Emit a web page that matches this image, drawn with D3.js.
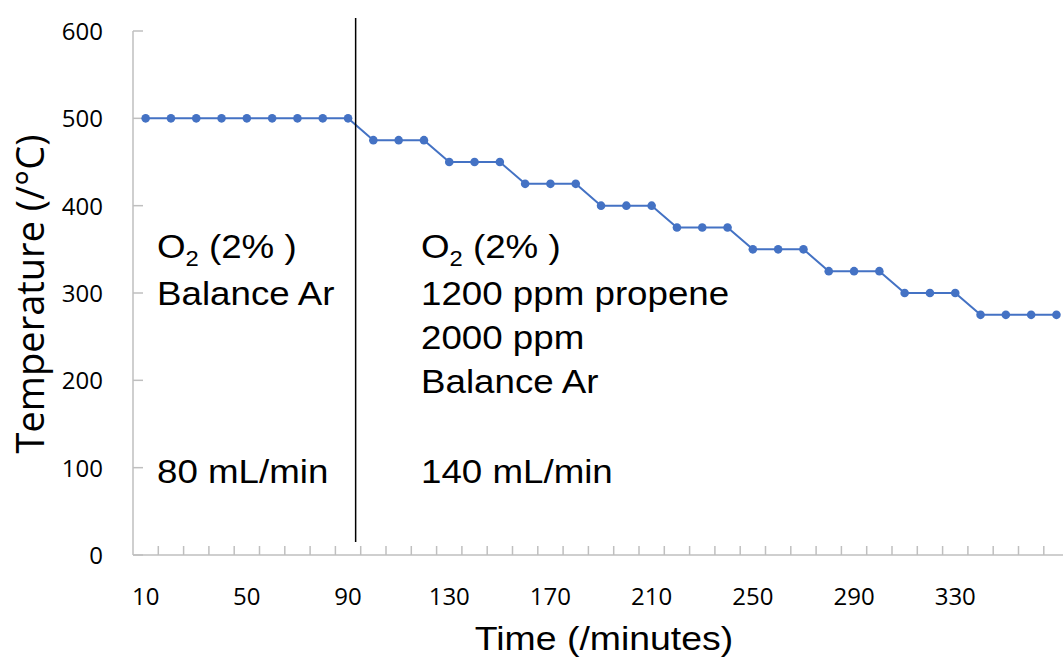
<!DOCTYPE html>
<html>
<head>
<meta charset="utf-8">
<script src="https://cdn.jsdelivr.net/npm/d3@7"></script>
<style>
  body { margin: 0; background: #fff; }
  svg { display: block; }
</style>
</head>
<body>
<div id="chart"></div>
<script>
// data
const times = [10, 20, 30, 40, 50, 60, 70, 80, 90, 100, 110, 120, 130, 140, 150, 160, 170, 180, 190,
  200, 210, 220, 230, 240, 250, 260, 270, 280, 290, 300, 310, 320, 330, 340, 350, 360, 370];
const temps = [500, 500, 500, 500, 500, 500, 500, 500, 500, 475, 475, 475, 450, 450, 450, 425, 425, 425, 400,
  400, 400, 375, 375, 375, 350, 350, 350, 325, 325, 325, 300, 300, 300, 275, 275, 275, 275];
const xLabels = [10, 50, 90, 130, 170, 210, 250, 290, 330];
const yTicks = [0, 100, 200, 300, 400, 500, 600];
const switchTime = 93;
const leftNotes = ["O2 (2% )", "Balance Ar", "", "", "80 mL/min"];
const rightNotes = ["O2 (2% )", "1200 ppm propene", "2000 ppm", "Balance Ar", "140 mL/min"];

const W = 1063, H = 662;
const plot = { left: 133, top: 31, bottom: 555 };
const band = 25.3;

const svg = d3.select("#chart").append("svg")
  .attr("width", W).attr("height", H);

const x = d3.scaleBand().domain(times).range([plot.left, plot.left + band * times.length]);
const y = d3.scaleLinear().domain([0, 600]).range([plot.bottom, plot.top]);
const cx = t => x(t) + x.bandwidth() / 2;
const tickFont = "'Open Sans', sans-serif";
const noteFont = "'Liberation Sans', Arial, sans-serif";

// y axis
svg.append("line")
  .attr("x1", plot.left).attr("x2", plot.left)
  .attr("y1", plot.top).attr("y2", plot.bottom)
  .attr("stroke", "#bfbfbf").attr("stroke-width", 1.5);
svg.selectAll(".ytick").data(yTicks).enter().append("line")
  .attr("x1", plot.left).attr("x2", plot.left + 10)
  .attr("y1", d => y(d)).attr("y2", d => y(d))
  .attr("stroke", "#bfbfbf").attr("stroke-width", 1.5);
svg.selectAll(".ylab").data(yTicks).enter().append("text")
  .attr("x", 103).attr("y", d => y(d) + 9)
  .attr("text-anchor", "end")
  .style("font-family", tickFont).style("font-size", "24px").style("fill", "#000")
  .text(d => d);

// x axis
svg.append("line")
  .attr("x1", plot.left).attr("x2", W)
  .attr("y1", plot.bottom).attr("y2", plot.bottom)
  .attr("stroke", "#bfbfbf").attr("stroke-width", 1.5);
svg.selectAll(".xtick").data(times.slice(1)).enter().append("line")
  .attr("x1", d => x(d)).attr("x2", d => x(d))
  .attr("y1", plot.bottom).attr("y2", plot.bottom - 9)
  .attr("stroke", "#bfbfbf").attr("stroke-width", 1.5);
svg.selectAll(".xlab").data(xLabels).enter().append("text")
  .attr("x", d => cx(d)).attr("y", 605)
  .attr("text-anchor", "middle")
  .style("font-family", tickFont).style("font-size", "24px").style("fill", "#000")
  .text(d => d);

// axis titles
svg.append("text")
  .attr("transform", "translate(604,650) scale(1.1,1)")
  .attr("text-anchor", "middle")
  .style("font-family", noteFont).style("font-size", "34px")
  .text("Time (/minutes)");
svg.append("text")
  .attr("transform", "translate(44,294) rotate(-90)")
  .attr("text-anchor", "middle")
  .style("font-family", tickFont).style("font-size", "38px")
  .text("Temperature (/°C)");

// series
const line = d3.line().x((d, i) => cx(times[i])).y(d => y(d));
svg.append("path")
  .datum(temps)
  .attr("fill", "none")
  .attr("stroke", "#4472c4")
  .attr("stroke-width", 2)
  .attr("d", line);
svg.selectAll(".dot").data(temps).enter().append("circle")
  .attr("cx", (d, i) => cx(times[i]))
  .attr("cy", d => y(d))
  .attr("r", 4.3)
  .attr("fill", "#4472c4");

// switch marker, placed between 90 and 100 min
const sx = cx(90) + (cx(100) - cx(90)) * (switchTime - 90) / 10;
svg.append("line")
  .attr("x1", sx).attr("x2", sx)
  .attr("y1", 18).attr("y2", 542)
  .attr("stroke", "#000").attr("stroke-width", 1.5);

// annotations
const lineYs = [258, 305, 349, 393, 483];
function notes(list, x0) {
  list.forEach((t, i) => {
    if (!t) return;
    const txt = svg.append("text")
      .attr("transform", `translate(${x0},${lineYs[i]}) scale(1.08,1)`)
      .style("font-family", noteFont)
      .style("font-size", "34px").style("fill", "#000");
    if (t.startsWith("O2")) {
      txt.append("tspan").text("O");
      txt.append("tspan").attr("dy", 8).style("font-size", "22px").text("2");
      txt.append("tspan").attr("dy", -8).text(t.slice(2));
    } else {
      txt.text(t);
    }
  });
}
notes(leftNotes, 157);
notes(rightNotes, 421);
</script>
</body>
</html>
